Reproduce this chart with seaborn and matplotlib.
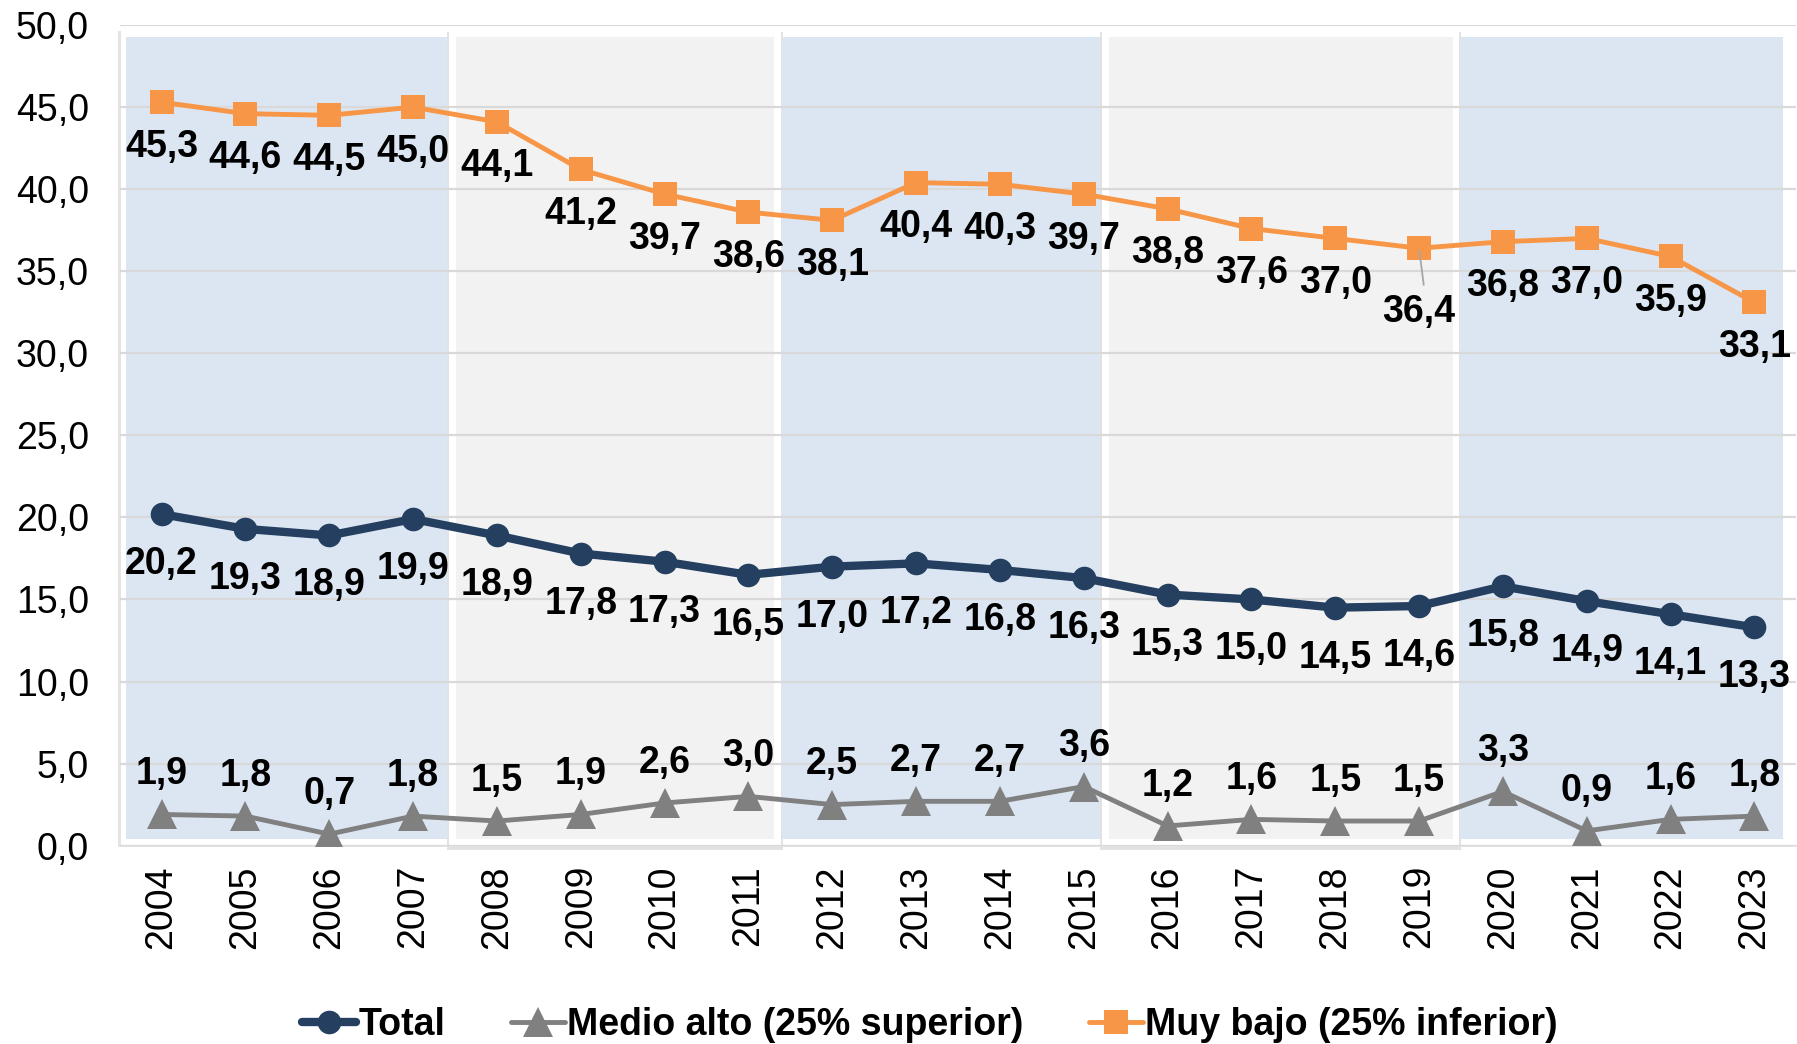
import numpy as np
import pandas as pd
import matplotlib.pyplot as plt
import seaborn as sns
from matplotlib.patches import Rectangle

# Datos
anios = list(range(2004, 2024))
total = [20.2, 19.3, 18.9, 19.9, 18.9, 17.8, 17.3, 16.5, 17.0, 17.2,
         16.8, 16.3, 15.3, 15.0, 14.5, 14.6, 15.8, 14.9, 14.1, 13.3]
medio_alto = [1.9, 1.8, 0.7, 1.8, 1.5, 1.9, 2.6, 3.0, 2.5, 2.7,
              2.7, 3.6, 1.2, 1.6, 1.5, 1.5, 3.3, 0.9, 1.6, 1.8]
muy_bajo = [45.3, 44.6, 44.5, 45.0, 44.1, 41.2, 39.7, 38.6, 38.1, 40.4,
            40.3, 39.7, 38.8, 37.6, 37.0, 36.4, 36.8, 37.0, 35.9, 33.1]
y_ticks = [0, 5, 10, 15, 20, 25, 30, 35, 40, 45, 50]

# bandas de fondo: bordes (en unidades del eje x) y color
bandas = [(-0.43, 3.41, '#DCE6F2'), (3.51, 7.31, '#F2F2F2'), (7.40, 11.19, '#DCE6F2'),
          (11.30, 15.40, '#F2F2F2'), (15.49, 19.34, '#DCE6F2')]

df = pd.DataFrame({'x': np.arange(len(anios)), 'Total': total,
                   'Medio alto': medio_alto, 'Muy bajo': muy_bajo})

sns.set_style("white")
plt.rcParams['font.family'] = ['Liberation Sans', 'DejaVu Sans']
plt.rcParams['text.color'] = 'black'
plt.rcParams['xtick.color'] = 'black'
plt.rcParams['ytick.color'] = 'black'

fig = plt.figure(figsize=(17.97, 10.44), dpi=100)
ax = fig.add_axes([0.0666, 0.190, 0.933, 0.786])

# marco y bandas
ax.add_patch(Rectangle((-0.52, -0.1), 20.1, 49.75, facecolor='#E4E4E4',
                       edgecolor='none', zorder=0, clip_on=False))
ax.add_patch(Rectangle((-0.49, 0.05), 20.1, 49.6, facecolor='white',
                       edgecolor='none', zorder=0.2, clip_on=False))
for x0, x1, col in bandas:
    if col == '#F2F2F2':
        ax.add_patch(Rectangle((x0 - 0.1, -0.25), (x1 - x0) + 0.2, 49.85,
                               facecolor='#E2E2E2', edgecolor='none', zorder=0.3, clip_on=False))
        ax.add_patch(Rectangle((x0 - 0.08, 0.02), (x1 - x0) + 0.16, 49.55,
                               facecolor='white', edgecolor='none', zorder=0.4, clip_on=False))
    ax.add_patch(Rectangle((x0, 0.4), x1 - x0, 48.9,
                           facecolor=col, edgecolor='none', zorder=0.5))

for yv in y_ticks:
    ax.axhline(yv, color='#D9D9D9', lw=1.6, zorder=1)

sns.lineplot(data=df, x='x', y='Muy bajo', ax=ax, color='#F79646', lw=3.5,
             marker='s', markersize=17, markeredgewidth=0, zorder=3, label='Muy bajo (25% inferior)')
sns.lineplot(data=df, x='x', y='Medio alto', ax=ax, color='#808080', lw=3.5,
             marker='^', markersize=21, markeredgewidth=0, zorder=3, label='Medio alto (25% superior)')
sns.lineplot(data=df, x='x', y='Total', ax=ax, color='#243F60', lw=6,
             marker='o', markersize=17, markeredgewidth=0, zorder=4, label='Total')

def fmt(v):
    return f"{v:.1f}".replace('.', ',')

for i in range(len(anios)):
    off = -32
    if anios[i] == 2019:
        off = -46
    ax.annotate(fmt(muy_bajo[i]), (i, muy_bajo[i]), xytext=(0, off), textcoords='offset points',
                ha='center', va='center', fontsize=27, fontweight='bold', zorder=6)
    ax.annotate(fmt(total[i]), (i, total[i]), xytext=(0, -36), textcoords='offset points',
                ha='center', va='center', fontsize=27, fontweight='bold', zorder=6)
    ax.annotate(fmt(medio_alto[i]), (i, medio_alto[i]), xytext=(0, 29), textcoords='offset points',
                ha='center', va='center', fontsize=27, fontweight='bold', zorder=6)

# línea guía para 2019
i19 = anios.index(2019)
ax.annotate('', (i19, muy_bajo[i19]), xytext=(i19 + 0.06, muy_bajo[i19] - 2.4),
            arrowprops=dict(arrowstyle='-', color='#A6A6A6', lw=1.3), zorder=3.5)

ax.set_xlim(-0.5, len(anios) - 0.5)
ax.set_ylim(0, 50)
ax.set_yticks(y_ticks)
ax.set_yticklabels([fmt(v) for v in y_ticks], fontsize=27)
ax.set_xticks(df['x'])
ax.set_xticklabels([str(a) for a in anios], rotation=90, fontsize=27)
ax.tick_params(axis='x', length=0, pad=14)
ax.tick_params(axis='y', length=0, pad=22)
ax.set_xlabel('')
ax.set_ylabel('')
for s in ['top', 'right', 'left', 'bottom']:
    ax.spines[s].set_visible(False)

handles, labels = ax.get_legend_handles_labels()
orden = [2, 1, 0]
ax.legend([handles[k] for k in orden], [labels[k] for k in orden],
          loc='center', bbox_to_anchor=(0.5175, 0.018), bbox_transform=fig.transFigure,
          ncol=3, frameon=False, handlelength=1.45, handletextpad=0.05, columnspacing=1.75,
          prop={'size': 27, 'weight': 'bold'})

plt.savefig('out.png', dpi=100)
